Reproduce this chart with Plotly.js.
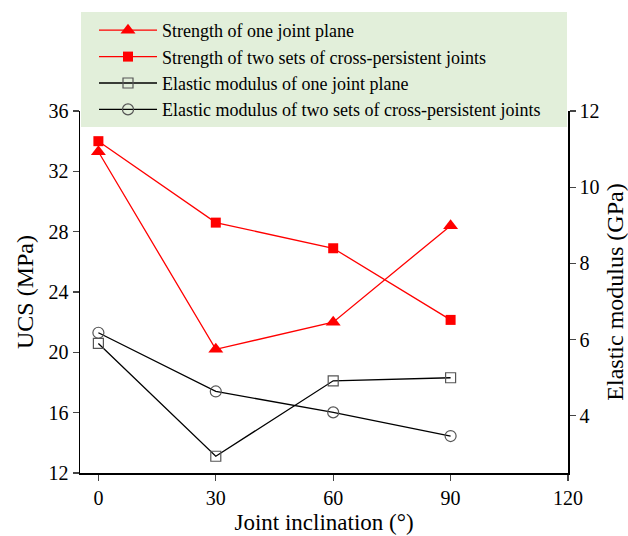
<!DOCTYPE html>
<html><head><meta charset="utf-8">
<script src="https://cdn.plot.ly/plotly-3.0.1.min.js"></script>
<style>body{margin:0;background:#fff}#chart{width:628px;height:536px}</style>
</head><body><div id="chart"></div>
<script>
const inclination = [0, 30, 60, 90];
const ucsOneJoint = [33.3, 20.2, 22.0, 28.4];
const ucsTwoSets = [34.0, 28.6, 26.9, 22.15];
const emOneJoint = [5.9, 2.94, 4.92, 5.0];
const emTwoSets = [6.18, 4.64, 4.09, 3.47];
const xTicks = [0, 30, 60, 90, 120];
const ucsTicks = [12, 16, 20, 24, 28, 32, 36];
const emTicks = [4, 6, 8, 10, 12];
const names = ['Strength of one joint plane','Strength of two sets of cross-persistent joints','Elastic modulus of one joint plane','Elastic modulus of two sets of cross-persistent joints'];

const traces = [
  {x: inclination, y: ucsOneJoint, name: names[0], legendgroup: 'a', mode: 'lines+markers', yaxis: 'y',
   line: {color: '#ff0000', width: 1.3}, marker: {symbol: 'triangle-up', size: 13, color: '#ff0000'}},
  {x: inclination, y: ucsTwoSets, name: names[1], legendgroup: 'b', mode: 'lines+markers', yaxis: 'y',
   line: {color: '#ff0000', width: 1.3}, marker: {symbol: 'square', size: 10, color: '#ff0000'}},
  {x: inclination, y: emOneJoint, name: names[2], legendgroup: 'c', mode: 'lines+markers', yaxis: 'y2',
   line: {color: '#000', width: 1.3}, marker: {symbol: 'square-open', size: 10, color: '#555', line: {width: 1.2}}},
  {x: inclination, y: emTwoSets, name: names[3], legendgroup: 'd', mode: 'lines+markers', yaxis: 'y2',
   line: {color: '#000', width: 1.3}, marker: {symbol: 'circle-open', size: 11, color: '#555', line: {width: 1.2}}}
];

const fam = 'Liberation Serif, Times New Roman, serif';
const tickFont = {family: fam, size: 20, color: '#000'};
const layout = {
  width: 628, height: 536,
  margin: {l: 80, r: 60, t: 111, b: 63},
  paper_bgcolor: '#fff', plot_bgcolor: '#fff',
  font: {family: fam, color: '#000'},
  showlegend: true,
  xaxis: {range: [-4.7, 120], tickvals: xTicks, ticks: 'outside', ticklen: 6, tickwidth: 1.3,
    showline: true, linecolor: '#000', linewidth: 1.5, showgrid: false, zeroline: false, tickfont: tickFont,
    title: {text: 'Joint inclination (°)', font: {size: 23}, standoff: 6}},
  yaxis: {range: [12, 36], tickvals: ucsTicks, ticks: 'outside', ticklen: 6, tickwidth: 1.3,
    showline: true, linecolor: '#000', linewidth: 1.5, showgrid: false, zeroline: false, tickfont: tickFont,
    title: {text: 'UCS (MPa)', font: {size: 24}, standoff: 8}},
  yaxis2: {overlaying: 'y', side: 'right', range: [2.5, 12], tickvals: emTicks, ticks: 'outside', ticklen: 6, tickwidth: 1.3,
    showline: true, linecolor: '#000', linewidth: 1.5, showgrid: false, zeroline: false, tickfont: tickFont,
    title: {text: 'Elastic modulus (GPa)', font: {size: 24}, standoff: 8}},
  shapes: [{type: 'rect', xref: 'paper', yref: 'paper', x0: 1/488, x1: 487/488, y0: (473-127)/362, y1: (473-12)/362,
    fillcolor: '#e2efda', line: {width: 0}, layer: 'above'}],
  legend: {x: 14/488, y: (473-12)/362, xanchor: 'left', yanchor: 'top', bgcolor: 'rgba(0,0,0,0)',
    font: {size: 18, color: '#000'}, itemwidth: 58, tracegroupgap: 3, traceorder: 'normal'}
};
Plotly.newPlot('chart', traces, layout, {displayModeBar: false, staticPlot: true});
</script></body></html>
